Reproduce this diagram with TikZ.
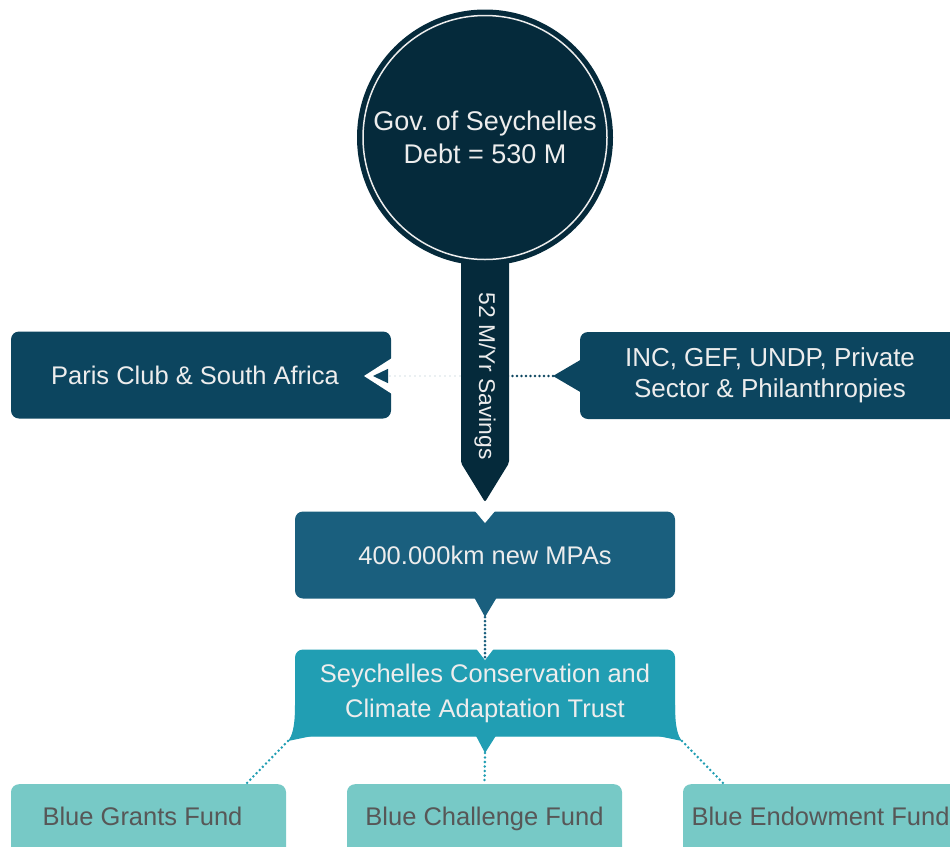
\documentclass[tikz,border=0pt]{standalone}
\usepackage{fontspec}
\setmainfont{Liberation Sans}
\usetikzlibrary{arrows.meta}
\definecolor{govnavy}{HTML}{052A3B}
\definecolor{partner}{HTML}{0C455F}
\definecolor{mpablue}{HTML}{1A5F7E}
\definecolor{trustblue}{HTML}{219EB3}
\definecolor{fundteal}{HTML}{77C9C6}
\definecolor{paletext}{HTML}{EDEDED}
\definecolor{fundtext}{HTML}{575757}
\begin{document}
\begin{tikzpicture}[x=1pt, y=-1pt,
    bigtext/.style={font=\fontsize{25.5}{31}\selectfont, text=paletext, align=center},
    flowbox/.style={bigtext, rounded corners=8pt, minimum width=380pt, minimum height=87pt, inner sep=0pt},
    fundbox/.style={font=\fontsize{25.5}{31}\selectfont, text=fundtext, fill=fundteal, rounded corners=8pt,
                    minimum width=275pt, text height=41pt, text depth=40pt, inner ysep=0pt, anchor=north},
    dotline/.style={line cap=round, dash pattern=on 0pt off #1},
  ]
  \useasboundingbox (0,0) rectangle (950,846);

  \coordinate (stemmid) at (485,376);
  \coordinate (inctip) at (553,376);
  \coordinate (parisin) at (373,376);
  \coordinate (mpatip) at (485,617);
  \coordinate (trustin) at (485,660);
  \coordinate (flareleft) at (288,741);
  \coordinate (flareright) at (682,741);
  \coordinate (trusttip) at (485,753);
  \coordinate (grantsin) at (246,784);
  \coordinate (endowin) at (724,784);

  \node[flowbox, fill=partner] (paris) at (201,375) {Paris Club \& South Africa\hspace*{12pt}};
  \node[flowbox, fill=partner, font=\fontsize{26}{31.5}\selectfont] (inc) at (770,375.5)
        {INC, GEF, UNDP, Private\\Sector \& Philanthropies};
  \fill[white] (392,358) -- (364,376) -- (392,394) -- cycle;
  \fill[partner] (582,359) -- (inctip) -- (582,393) -- cycle;
  \draw[dotline=4.5pt, partner, line width=2.8pt] (inctip) -- (stemmid);
  \draw[dotline=5pt, partner!35, line width=1.3pt, -{Triangle[length=15pt, width=14pt, color=partner, fill=partner]}]
        (stemmid) -- (parisin);

  \fill[govnavy, rounded corners=2pt] (461,200) -- (509,200) -- (509,463) -- (485,502) -- (461,463) -- cycle;
  \node[circle, fill=govnavy, draw=paletext, line width=1.5pt, minimum size=244pt,
        preaction={draw=govnavy, fill=govnavy, line width=12pt},
        bigtext, font=\fontsize{27}{33}\selectfont] (gov) at (485,137.5) {Gov.\ of Seychelles\\Debt = 530 M};
  \node[text=paletext, font=\fontsize{22.8}{26}\selectfont, rotate=-90] (savings) at (stemmid) {52 M/Yr Savings};

  \node[flowbox, fill=mpablue] (mpa) at (485,555) {400.000km new MPAs};
  \fill[white] (475,511) -- (485,523) -- (495,511) -- cycle;
  \fill[mpablue] (474,597) -- (mpatip) -- (497,597) -- cycle;

  \fill[trustblue] (295,705) .. controls (295,728) and (292,736) .. (flareleft) -- (312,736) -- (658,736)
        -- (flareright) .. controls (678,736) and (675,728) .. (675,705) -- cycle;
  \node[flowbox, fill=trustblue, font=\fontsize{25.5}{35}\selectfont] (trust) at (485,693)
        {Seychelles Conservation and\\Climate Adaptation Trust};
  \fill[white] (475,647) -- (trustin) -- (495,647) -- cycle;
  \fill[trustblue] (475,734) -- (trusttip) -- (497,734) -- cycle;
  \draw[dotline=4pt, mpablue, line width=3pt] (mpatip) -- (trustin);

  \node[fundbox] (grants) at (148.5,784) {Blue Grants Fund\hspace*{12pt}};
  \node[fundbox] (challenge) at (484.5,784) {Blue Challenge Fund};
  \node[fundbox] (endow) at (820.5,784) {Blue Endowment Fund};
  \draw[dotline=4.5pt, trustblue, line width=2.8pt] (flareleft) -- (grantsin)
        (trusttip) -- (challenge.north)
        (flareright) -- (endowin);
\end{tikzpicture}
\end{document}
